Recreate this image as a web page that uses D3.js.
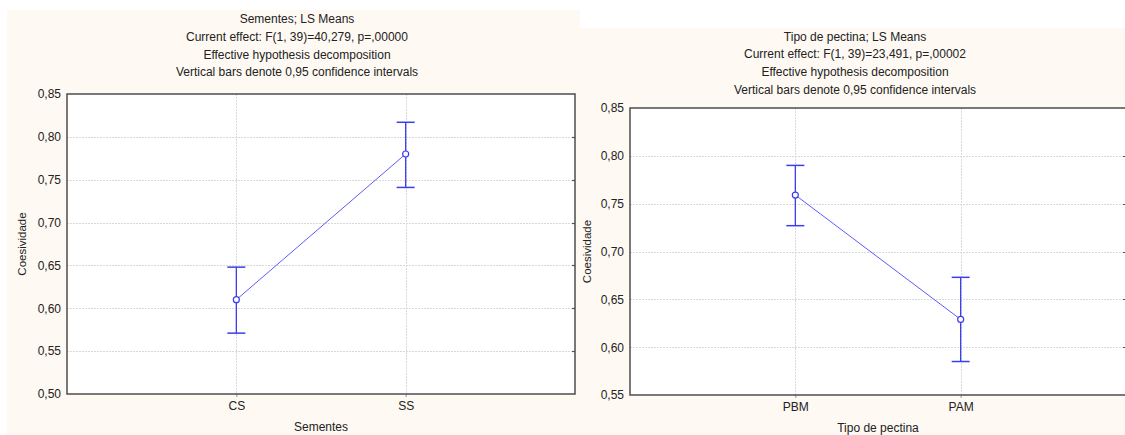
<!DOCTYPE html>
<html>
<head>
<meta charset="utf-8">
<script src="https://cdn.jsdelivr.net/npm/d3@7"></script>
<style>
  html, body { margin: 0; padding: 0; background: #ffffff; }
  svg { display: block; }
  text { font-family: "Liberation Sans", Arial, sans-serif; fill: #222; }
</style>
</head>
<body>
<svg id="chart" width="1125" height="435"></svg>
<script>
// ---- Sementes panel ----
const semCategories = ["CS", "SS"];
const semMeans = [0.610, 0.780];
const semLower = [0.571, 0.741];
const semUpper = [0.648, 0.817];
const semTicks = [0.50, 0.55, 0.60, 0.65, 0.70, 0.75, 0.80, 0.85];
const semTitle = [
  "Sementes; LS Means",
  "Current effect: F(1, 39)=40,279, p=,00000",
  "Effective hypothesis decomposition",
  "Vertical bars denote 0,95 confidence intervals"
];

// ---- Tipo de pectina panel ----
const pecCategories = ["PBM", "PAM"];
const pecMeans = [0.759, 0.629];
const pecLower = [0.727, 0.585];
const pecUpper = [0.790, 0.673];
const pecTicks = [0.55, 0.60, 0.65, 0.70, 0.75, 0.80, 0.85];
const pecTitle = [
  "Tipo de pectina; LS Means",
  "Current effect: F(1, 39)=23,491, p=,00002",
  "Effective hypothesis decomposition",
  "Vertical bars denote 0,95 confidence intervals"
];

const svg = d3.select("#chart");
const fmt = v => d3.format(".2f")(v).replace(".", ",");

function drawPanel(o) {
  const g = svg.append("g");

  // panel background
  g.append("rect")
    .attr("x", o.bg[0]).attr("y", o.bg[1])
    .attr("width", o.bg[2]).attr("height", o.bg[3])
    .attr("fill", "#fef9f3");

  const x = d3.scalePoint().domain(o.categories).range([o.left, o.right]).padding(1);
  const y = d3.scaleLinear().domain([o.ticks[0], o.ticks[o.ticks.length - 1]]).range([o.bottom, o.top]);

  // title lines
  g.selectAll("text.title").data(o.title).join("text")
    .attr("class", "title")
    .attr("x", o.titleX)
    .attr("y", (d, i) => o.titleY + i * 17.7)
    .attr("text-anchor", "middle")
    .attr("dominant-baseline", "middle")
    .style("font-size", "12px")
    .text(d => d);

  // plotting area
  g.append("rect")
    .attr("x", o.left).attr("y", o.top)
    .attr("width", o.right - o.left).attr("height", o.bottom - o.top)
    .attr("fill", "#ffffff");

  // grid lines
  g.selectAll("line.hgrid").data(o.ticks.slice(1, -1)).join("line")
    .attr("x1", o.left).attr("x2", o.right)
    .attr("y1", d => Math.round(y(d)) + 0.5).attr("y2", d => Math.round(y(d)) + 0.5)
    .attr("stroke", "#d9d9d9").attr("stroke-dasharray", "2,1");
  g.selectAll("line.vgrid").data(o.categories).join("line")
    .attr("x1", d => Math.round(x(d)) + 0.5).attr("x2", d => Math.round(x(d)) + 0.5)
    .attr("y1", o.top).attr("y2", o.bottom)
    .attr("stroke", "#d9d9d9").attr("stroke-dasharray", "2,1");

  // y axis
  const yAxis = d3.axisLeft(y).tickValues(o.ticks).tickFormat(fmt).tickSize(0).tickPadding(6);
  const ya = g.append("g").attr("transform", `translate(${o.left},0)`).call(yAxis);
  ya.select(".domain").remove();
  ya.selectAll("text").style("font-size", "12px").attr("fill", "#222")
    .style("font-family", "'Liberation Sans', Arial, sans-serif");

  // inward ticks on the right border
  g.selectAll("line.rtick").data(o.ticks.slice(1, -1)).join("line")
    .attr("x1", o.right - 3).attr("x2", o.right)
    .attr("y1", d => Math.round(y(d)) + 0.5).attr("y2", d => Math.round(y(d)) + 0.5)
    .attr("stroke", "#555").attr("stroke-width", 1.2);

  // x axis
  const xAxis = d3.axisBottom(x).tickSize(3).tickPadding(4);
  const xa = g.append("g").attr("transform", `translate(0,${o.bottom})`).call(xAxis);
  xa.select(".domain").remove();
  xa.selectAll("line").attr("stroke", "#999");
  xa.selectAll("text").style("font-size", "12px").attr("fill", "#222")
    .style("font-family", "'Liberation Sans', Arial, sans-serif");

  // plot border
  g.append("rect")
    .attr("x", o.left).attr("y", o.top)
    .attr("width", o.right - o.left).attr("height", o.bottom - o.top)
    .attr("fill", "none").attr("stroke", "#4d4d4d").attr("stroke-width", 1.5);

  // axis titles
  g.append("text")
    .attr("transform", `translate(${o.yTitleX},${(o.top + o.bottom) / 2}) rotate(-90)`)
    .attr("text-anchor", "middle").attr("dominant-baseline", "middle")
    .style("font-size", "11.5px")
    .text("Coesividade");
  g.append("text")
    .attr("x", (o.left + o.right) / 2).attr("y", o.bottom + 34)
    .attr("text-anchor", "middle").attr("dominant-baseline", "middle")
    .style("font-size", "12px")
    .text(o.xTitle);

  const pts = o.categories.map((c, i) => ({ c, m: o.means[i], lo: o.lower[i], hi: o.upper[i] }));

  // connecting line
  g.append("path")
    .datum(pts)
    .attr("d", d3.line().x(d => x(d.c)).y(d => y(d.m)))
    .attr("fill", "none").attr("stroke", "#5c5cff").attr("stroke-width", 1);

  // confidence interval bars
  const eb = g.selectAll("g.eb").data(pts).join("g").attr("class", "eb");
  eb.append("line")
    .attr("x1", d => x(d.c)).attr("x2", d => x(d.c))
    .attr("y1", d => y(d.lo)).attr("y2", d => y(d.hi))
    .attr("stroke", "#3c3cf0").attr("stroke-width", 1.3);
  eb.selectAll("line.cap").data(d => [[d.c, d.lo], [d.c, d.hi]]).join("line")
    .attr("class", "cap")
    .attr("x1", d => x(d[0]) - 9).attr("x2", d => x(d[0]) + 9)
    .attr("y1", d => y(d[1])).attr("y2", d => y(d[1]))
    .attr("stroke", "#3c3cf0").attr("stroke-width", 1.5);

  // mean markers
  g.selectAll("circle.mean").data(pts).join("circle")
    .attr("cx", d => x(d.c)).attr("cy", d => y(d.m)).attr("r", 3)
    .attr("fill", "#ffffff").attr("stroke", "#3c3cf0").attr("stroke-width", 1.2);
}

drawPanel({
  bg: [7, 10, 573, 425],
  left: 67, right: 575, top: 94, bottom: 394,
  titleX: 297, titleY: 20,
  yTitleX: 23,
  xTitle: "Sementes",
  categories: semCategories, means: semMeans, lower: semLower, upper: semUpper,
  ticks: semTicks, title: semTitle
});

drawPanel({
  bg: [580, 28, 545, 407],
  left: 630, right: 1126, top: 108, bottom: 395,
  titleX: 855, titleY: 37.5,
  yTitleX: 588,
  xTitle: "Tipo de pectina",
  categories: pecCategories, means: pecMeans, lower: pecLower, upper: pecUpper,
  ticks: pecTicks, title: pecTitle
});
</script>
</body>
</html>
